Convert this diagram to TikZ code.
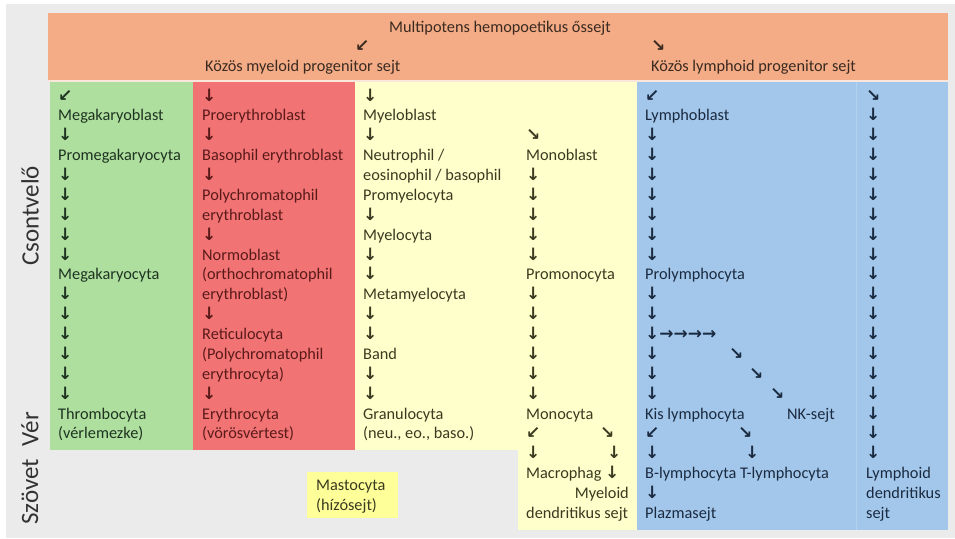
\documentclass[tikz,border=0pt]{standalone}
\usepackage{fontspec}
\setmainfont{Carlito}
\newfontfamily\arrowfont{DejaVu Sans}
\definecolor{bgc}{HTML}{EBEBEB}
\definecolor{hdr}{HTML}{F3AC86}
\definecolor{grn}{HTML}{AEDF9F}
\definecolor{redc}{HTML}{F27373}
\definecolor{yel}{HTML}{FFFFCC}
\definecolor{mast}{HTML}{FFFF99}
\definecolor{blu}{HTML}{A3C7EA}
\definecolor{bluline}{HTML}{B2D1EF}
\definecolor{gtxt}{HTML}{1E3320}
\definecolor{rtxt}{HTML}{5A1A1A}
\definecolor{ytxt}{HTML}{3A3A20}
\definecolor{btxt}{HTML}{1A2A40}
\definecolor{htxt}{HTML}{3A2A20}
\definecolor{lbl}{HTML}{333333}
\newcommand\arfont{\arrowfont\bfseries\fontsize{17}{17}\selectfont}
\newcommand\arD{{\arfont ↓}}
\newcommand\arSW{{\arfont ↙}}
\newcommand\arSE{{\arfont ↘}}
\newcommand\arR{{\arfont →}}
\begin{document}
\begin{tikzpicture}[x=1pt,y=-1pt,
  txt/.style={anchor=base west,inner sep=0pt,font=\fontsize{16.3}{18}\selectfont},
  txtr/.style={anchor=base east,inner sep=0pt,font=\fontsize{16.3}{18}\selectfont},
  side/.style={rotate=90,inner sep=0pt,font=\fontsize{25}{25}\selectfont,text=lbl}]
\useasboundingbox (0,0) rectangle (955,538);
\fill[white] (0,0) rectangle (955,538);
\fill[bgc] (6,4) rectangle (955,538);
% bands
\fill[hdr] (48,13) rectangle (948,80);
\fill[white!70!hdr] (48,80) rectangle (948,82);
\fill[grn] (50,82) rectangle (193,450);
\fill[redc] (193,82) rectangle (355,450);
\fill[yel] (355,82) rectangle (637,450);
\fill[yel] (518,450) rectangle (637,530);
\fill[blu] (637,82) rectangle (948,530);
\draw[bluline,line width=0.8pt] (856,82) -- (856,530);
\fill[mast] (307,472) rectangle (398,518);
% side labels
\node[side] (csont) at (30,216) {Csontvelő};
\node[side] (ver) at (30,429) {Vér};
\node[side] (szovet) at (30,492) {Szövet};
% header
\begin{scope}[text=htxt]
\node[txt,anchor=base] (mph) at (500,32) {Multipotens hemopoetikus őssejt};
\node[txt] (hsw) at (355,51) {\arSW};
\node[txt] (mye) at (205,71) {Közös myeloid progenitor sejt};
\node[txt] (hse) at (651,51) {\arSE};
\node[txt] (lym) at (651,71) {Közös lymphoid progenitor sejt};
\end{scope}
% green column
\foreach \i/\t in {0/\arSW,1/Megakaryoblast,2/\arD,3/Promegakaryocyta,4/\arD,5/\arD,6/\arD,7/\arD,8/\arD,
  9/Megakaryocyta,10/\arD,11/\arD,12/\arD,13/\arD,14/\arD,15/\arD,16/Thrombocyta,17/(vérlemezke)}
  \node[txt,text=gtxt] (g\i) at (58,{101+19.88*\i}) {\t};
% red column
\foreach \i/\t in {0/\arD,1/Proerythroblast,2/\arD,3/{Basophil erythroblast},4/\arD,5/Polychromatophil,
  6/erythroblast,7/\arD,8/Normoblast,9/(orthochromatophil,10/erythroblast),11/\arD,12/Reticulocyta,
  13/(Polychromatophil,14/erythrocyta),15/\arD,16/Erythrocyta,17/(vörösvértest)}
  \node[txt,text=rtxt] (r\i) at (202,{101+19.88*\i}) {\t};
% yellow left
\foreach \i/\t in {0/\arD,1/Myeloblast,2/\arD,3/{Neutrophil /},4/{eosinophil / basophil},5/Promyelocyta,
  6/\arD,7/Myelocyta,8/\arD,9/\arD,10/Metamyelocyta,11/\arD,12/\arD,13/Band,14/\arD,15/\arD,
  16/Granulocyta,17/{(neu., eo., baso.)}}
  \node[txt,text=ytxt] (y\i) at (363,{101+19.88*\i}) {\t};
% yellow right (monocyte line)
\foreach \i/\t in {2/\arSE,3/Monoblast,4/\arD,5/\arD,6/\arD,7/\arD,8/\arD,9/Promonocyta,
  10/\arD,11/\arD,12/\arD,13/\arD,14/\arD,15/\arD,16/Monocyta,17/\arSW,18/\arD,19/{Macrophag \arD},
  21/{dendritikus sejt}}
  \node[txt,text=ytxt] (m\i) at (526,{101+19.88*\i}) {\t};
\node[txt,text=ytxt] (m17b) at (600,{101+19.88*17}) {\arSE};
\node[txt,text=ytxt] (m18b) at (607,{101+19.88*18}) {\arD};
\node[txtr,text=ytxt] (m20) at (629,{101+19.88*20}) {Myeloid};
% mastocyta
\node[txt,text=ytxt] (ma1) at (316,490) {Mastocyta};
\node[txt,text=ytxt] (ma2) at (316,510) {(hízósejt)};
% blue left
\foreach \i/\t in {0/\arSW,1/Lymphoblast,2/\arD,3/\arD,4/\arD,5/\arD,6/\arD,7/\arD,8/\arD,
  9/Prolymphocyta,10/\arD,11/\arD,12/{\arD\arR\arR\arR\arR},13/\arD,14/\arD,15/\arD,
  16/{Kis lymphocyta},17/\arSW,18/\arD,19/{B-lymphocyta T-lymphocyta},20/\arD,21/Plazmasejt}
  \node[txt,text=btxt] (l\i) at (645,{101+19.88*\i}) {\t};
\node[txt,text=btxt] (l13b) at (729,{101+19.88*13}) {\arSE};
\node[txt,text=btxt] (l14b) at (749,{101+19.88*14}) {\arSE};
\node[txt,text=btxt] (l15b) at (770,{101+19.88*15}) {\arSE};
\node[txt,text=btxt] (nk) at (787,{101+19.88*16}) {NK-sejt};
\node[txt,text=btxt] (l17b) at (738,{101+19.88*17}) {\arSE};
\node[txt,text=btxt] (l18b) at (745,{101+19.88*18}) {\arD};
% blue right
\foreach \i/\t in {0/\arSE,1/\arD,2/\arD,3/\arD,4/\arD,5/\arD,6/\arD,7/\arD,8/\arD,9/\arD,10/\arD,
  11/\arD,12/\arD,13/\arD,14/\arD,15/\arD,16/\arD,17/\arD,18/\arD,19/Lymphoid,20/dendritikus,21/sejt}
  \node[txt,text=btxt] (d\i) at (866,{101+19.88*\i}) {\t};
\end{tikzpicture}
\end{document}
